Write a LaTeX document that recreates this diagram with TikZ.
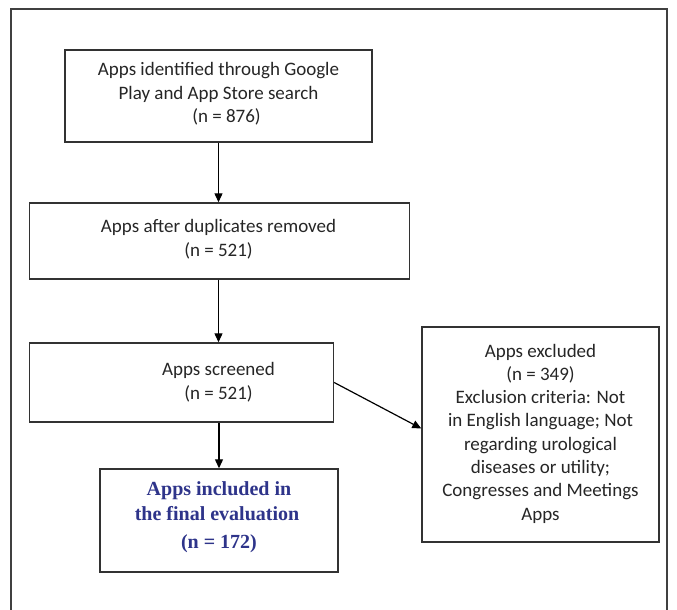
\documentclass[tikz,border=0pt]{standalone}
\usepackage{fontspec}
\setmainfont{Carlito}
\newfontfamily\serifbold{Liberation Serif}
\usetikzlibrary{arrows.meta,calc}
\definecolor{linegray}{RGB}{50,50,50}
\definecolor{inclblue}{RGB}{46,52,138}
\begin{document}
\begin{tikzpicture}[x=1pt,y=-1pt,
  box/.style={draw=linegray,line width=1.4pt,fill=white,inner sep=0pt},
  txt/.style={align=center,font=\fontsize{19}{23.5}\selectfont,text=black!85},
  arr/.style={draw=black,line width=1.2pt,-{Triangle[length=9pt,width=8pt]}},
  frame/.style={draw=black!75,line width=1.3pt}]
\useasboundingbox (0,0) rectangle (677,610);
\draw[frame] (11,612) -- (11,9) -- (667,9) -- (667,612);
% boxes
\node[box,minimum width=307pt,minimum height=92pt] (b1) at (218.5,96) {};
\node[txt] (t1) at (218.5,94) {Apps identified through Google\\Play and App Store search\\\hspace*{16pt}(n = 876)};
\node[box,minimum width=380pt,minimum height=76pt] (b2) at (219.5,241) {};
\node[txt] (t2) at (218.5,239) {Apps after duplicates removed\\(n = 521)};
\node[box,minimum width=304pt,minimum height=79pt] (b3) at (181.5,382.5) {};
\node[txt] (t3) at (218.5,382) {Apps screened\\(n = 521)};
\node[box,minimum width=238pt,minimum height=103pt] (b4) at (219,520.5) {};
\node[align=center,text=inclblue,font=\serifbold\bfseries\fontsize{20}{25}\selectfont] (t4) at (219,517) {Apps included in\\\hspace*{-4pt}the final evaluation\\[3pt](n = 172)};
\node[box,minimum width=237pt,minimum height=215pt] (b5) at (540.5,434.5) {};
\node[txt,font=\fontsize{19}{23.3}\selectfont] (t5) at (540.5,433.5) {Apps excluded\\(n = 349)\\Exclusion criteria: Not\\in English language; Not\\regarding urological\\diseases or utility;\\Congresses and Meetings\\Apps};
% connectors
\draw[arr] (b1.south) -- (b1.south |- b2.north);
\draw[arr] (b2.south -| t2) -- (t2 |- b3.north);
\draw[arr] (b3.south -| b4.north) -- (b4.north);
\draw[arr] (b3.east) -- ([yshift=6pt]b5.west);
\end{tikzpicture}
\end{document}
